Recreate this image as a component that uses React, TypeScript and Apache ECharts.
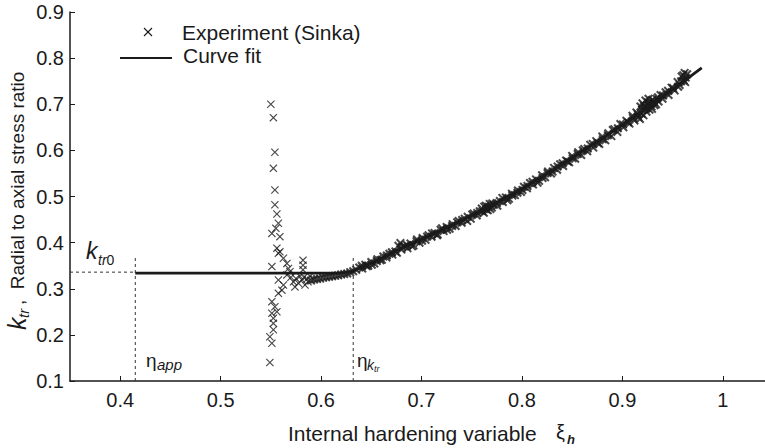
import React, { useEffect, useRef } from 'react';
import * as echarts from 'echarts';

const xTickValues = [0.4, 0.5, 0.6, 0.7, 0.8, 0.9, 1];
const yTickValues = [0.1, 0.2, 0.3, 0.4, 0.5, 0.6, 0.7, 0.8, 0.9];

const ktr0Value = 0.336;
const etaApp = 0.415;
const etaKtr = 0.632;

// Curve fit
const curveX = [0.415, 0.5, 0.6, 0.62, 0.63, 0.64, 0.65, 0.66, 0.67, 0.68, 0.69, 0.7, 0.72, 0.74, 0.76, 0.78, 0.8, 0.82, 0.84, 0.86, 0.88, 0.9, 0.92, 0.94, 0.96, 0.979];
const curveY = [0.334, 0.334, 0.334, 0.334, 0.337, 0.346, 0.356, 0.366, 0.377, 0.388, 0.398, 0.408, 0.428, 0.448, 0.47, 0.493, 0.517, 0.543, 0.57, 0.598, 0.626, 0.655, 0.685, 0.716, 0.748, 0.779];

// Experiment (Sinka): scattered points near onset
const clusterPoints: [number, number][] = [
  [0.550, 0.700], [0.5525, 0.671], [0.554, 0.596], [0.5525, 0.561], [0.554, 0.514],
  [0.554, 0.482], [0.556, 0.462], [0.5575, 0.442], [0.555, 0.431], [0.551, 0.420],
  [0.559, 0.413], [0.556, 0.388], [0.559, 0.380], [0.5575, 0.377], [0.5625, 0.366],
  [0.566, 0.355], [0.551, 0.348], [0.5675, 0.344], [0.582, 0.362], [0.582, 0.351],
  [0.582, 0.341], [0.569, 0.337], [0.5575, 0.319], [0.5625, 0.308], [0.561, 0.297],
  [0.5575, 0.290], [0.5725, 0.315], [0.574, 0.304], [0.5775, 0.312], [0.581, 0.319],
  [0.584, 0.308], [0.587, 0.315], [0.551, 0.272], [0.554, 0.261], [0.556, 0.250],
  [0.551, 0.247], [0.5525, 0.236], [0.5525, 0.225], [0.5525, 0.211], [0.549, 0.196],
  [0.551, 0.182], [0.549, 0.140], [0.570, 0.325], [0.575, 0.322], [0.579, 0.327],
  [0.583, 0.325], [0.586, 0.321], [0.589, 0.327], [0.566, 0.330]
];

// Experiment (Sinka): dense band along the curve
const bandPoints: [number, number][] = [
  [0.590, 0.318], [0.593, 0.320], [0.596, 0.321], [0.599, 0.322], [0.602, 0.324],
  [0.605, 0.325], [0.608, 0.326], [0.611, 0.327], [0.614, 0.328], [0.617, 0.329],
  [0.620, 0.331], [0.623, 0.332], [0.626, 0.333], [0.629, 0.336], [0.632, 0.338],
  [0.635, 0.341], [0.638, 0.346], [0.641, 0.344], [0.644, 0.352], [0.647, 0.350],
  [0.650, 0.358], [0.653, 0.355], [0.656, 0.364], [0.659, 0.362], [0.662, 0.370],
  [0.665, 0.368], [0.668, 0.376], [0.671, 0.374], [0.674, 0.381], [0.677, 0.393],
  [0.679, 0.399], [0.680, 0.385], [0.683, 0.392], [0.686, 0.388], [0.689, 0.398],
  [0.692, 0.394], [0.695, 0.403], [0.698, 0.400], [0.701, 0.410], [0.704, 0.406],
  [0.707, 0.416], [0.710, 0.413], [0.713, 0.421], [0.716, 0.418], [0.719, 0.428],
  [0.722, 0.425], [0.725, 0.434], [0.728, 0.430], [0.731, 0.440], [0.734, 0.436],
  [0.737, 0.447], [0.740, 0.443], [0.743, 0.452], [0.746, 0.456], [0.749, 0.452],
  [0.752, 0.463], [0.755, 0.459], [0.758, 0.468], [0.760, 0.474], [0.762, 0.465],
  [0.764, 0.480], [0.766, 0.470], [0.768, 0.484], [0.770, 0.476], [0.772, 0.482],
  [0.775, 0.486], [0.778, 0.490], [0.781, 0.488], [0.784, 0.498], [0.787, 0.495],
  [0.790, 0.506], [0.793, 0.503], [0.796, 0.513], [0.799, 0.510], [0.802, 0.521],
  [0.805, 0.518], [0.808, 0.529], [0.811, 0.526], [0.814, 0.537], [0.817, 0.534],
  [0.820, 0.546], [0.823, 0.542], [0.826, 0.554], [0.829, 0.550], [0.832, 0.562],
  [0.835, 0.558], [0.838, 0.570], [0.841, 0.566], [0.844, 0.578], [0.847, 0.574],
  [0.850, 0.588], [0.853, 0.582], [0.856, 0.596], [0.859, 0.590], [0.862, 0.603],
  [0.865, 0.598], [0.868, 0.612], [0.871, 0.606], [0.874, 0.620], [0.877, 0.614],
  [0.880, 0.630], [0.883, 0.622], [0.886, 0.637], [0.889, 0.631], [0.892, 0.646],
  [0.895, 0.640], [0.898, 0.657], [0.901, 0.650], [0.904, 0.664], [0.907, 0.658],
  [0.910, 0.675], [0.912, 0.665], [0.914, 0.682], [0.916, 0.672], [0.918, 0.695],
  [0.919, 0.680], [0.920, 0.702], [0.921, 0.676], [0.922, 0.690], [0.923, 0.708],
  [0.924, 0.684], [0.925, 0.698], [0.926, 0.712], [0.927, 0.688], [0.928, 0.705],
  [0.929, 0.695], [0.930, 0.710], [0.932, 0.698], [0.934, 0.712], [0.936, 0.706],
  [0.938, 0.720], [0.940, 0.712], [0.943, 0.726], [0.946, 0.720], [0.949, 0.736],
  [0.952, 0.730], [0.955, 0.748], [0.957, 0.742], [0.959, 0.760], [0.961, 0.752],
  [0.962, 0.768], [0.963, 0.758]
];

// Experiment (Sinka): additional band readings (interleaved)
const bandPoints2: [number, number][] = [
  [0.6405, 0.350], [0.6455, 0.349], [0.6505, 0.352], [0.6555, 0.360], [0.6605, 0.363],
  [0.6655, 0.372], [0.6705, 0.379], [0.6755, 0.378], [0.6805, 0.391], [0.6855, 0.395],
  [0.6905, 0.392], [0.6955, 0.407], [0.7005, 0.404], [0.7055, 0.413], [0.7105, 0.420],
  [0.7155, 0.416], [0.7205, 0.431], [0.7255, 0.428], [0.7305, 0.436], [0.7355, 0.444],
  [0.7405, 0.449], [0.7455, 0.447], [0.7505, 0.461], [0.7555, 0.464], [0.7605, 0.468],
  [0.7625, 0.478], [0.7645, 0.472], [0.7665, 0.478], [0.7685, 0.473], [0.7705, 0.485],
  [0.7755, 0.480], [0.7805, 0.497], [0.7855, 0.492], [0.7905, 0.502], [0.7955, 0.508],
  [0.8005, 0.514], [0.8055, 0.523], [0.8105, 0.532], [0.8155, 0.530], [0.8205, 0.540],
  [0.8255, 0.551], [0.8305, 0.554], [0.8355, 0.565], [0.8405, 0.572], [0.8455, 0.576],
  [0.8505, 0.583], [0.8555, 0.592], [0.8605, 0.600], [0.8655, 0.604], [0.8705, 0.614],
  [0.8755, 0.616], [0.8805, 0.624], [0.8855, 0.633], [0.8905, 0.644], [0.8955, 0.648],
  [0.9005, 0.656], [0.9055, 0.661], [0.9105, 0.670], [0.9155, 0.678], [0.9175, 0.668],
  [0.9195, 0.688], [0.9215, 0.696], [0.9235, 0.692], [0.9255, 0.704], [0.9275, 0.700],
  [0.9295, 0.690], [0.9315, 0.705], [0.9335, 0.700], [0.9355, 0.715], [0.9405, 0.719],
  [0.9455, 0.729], [0.9505, 0.735], [0.9555, 0.738], [0.9585, 0.750], [0.9605, 0.763],
  [0.9625, 0.748], [0.9645, 0.765]
];

const FONT = "'Liberation Sans', Arial, sans-serif";
const INK = '#1a1a1a';
const CROSS = 'path://M0,1L1,0L5,4L9,0L10,1L6,5L10,9L9,10L5,6L1,10L0,9L4,5Z';
const CROSS_BOLD = 'path://M0,1.6L1.6,0L5,3.4L8.4,0L10,1.6L6.6,5L10,8.4L8.4,10L5,6.6L1.6,10L0,8.4L3.4,5Z';

export default function App() {
  const ref = useRef<HTMLDivElement>(null);

  useEffect(() => {
    if (!ref.current) return;
    const chart = echarts.init(ref.current, null, { renderer: 'svg' });

    const option: any = {
      animation: false,
      backgroundColor: '#ffffff',
      grid: { left: 70, right: 0, top: 12, bottom: 67 },
      xAxis: {
        type: 'value',
        min: 0.35,
        max: 1.042,
        axisLine: { show: true, lineStyle: { color: INK, width: 1.5 } },
        axisTick: { show: true, inside: true, length: 5, customValues: xTickValues, lineStyle: { color: INK, width: 1 } },
        axisLabel: {
          customValues: xTickValues,
          color: INK,
          fontSize: 20,
          fontFamily: FONT,
          margin: 9,
          formatter: (v: number) => (Math.abs(v - 1) < 1e-9 ? '1' : v.toFixed(1)),
        },
        splitLine: { show: false },
      },
      yAxis: {
        type: 'value',
        min: 0.1,
        max: 0.9,
        axisLine: { show: true, lineStyle: { color: INK, width: 1.5 } },
        axisTick: { show: true, inside: true, length: 5, customValues: yTickValues, lineStyle: { color: INK, width: 1 } },
        axisLabel: {
          customValues: yTickValues,
          color: INK,
          fontSize: 20,
          fontFamily: FONT,
          margin: 6,
          formatter: (v: number) => v.toFixed(1),
        },
        splitLine: { show: false },
      },
      series: [
        {
          name: 'Experiment (Sinka)',
          type: 'scatter',
          data: clusterPoints,
          symbol: CROSS,
          symbolSize: 8,
          itemStyle: { color: INK },
          z: 3,
        },
        {
          name: 'Experiment (Sinka) band',
          type: 'scatter',
          data: bandPoints,
          symbol: CROSS_BOLD,
          symbolSize: 9,
          itemStyle: { color: INK },
          z: 3,
        },
        {
          name: 'Experiment (Sinka) band 2',
          type: 'scatter',
          data: bandPoints2,
          symbol: CROSS_BOLD,
          symbolSize: 9,
          itemStyle: { color: INK },
          z: 3,
        },
        {
          name: 'Curve fit',
          type: 'line',
          data: curveX.map((x, i) => [x, curveY[i]]),
          showSymbol: false,
          smooth: false,
          lineStyle: { color: INK, width: 2.8 },
          z: 4,
        },
        {
          name: 'ktr0 guide',
          type: 'line',
          data: [[0.35, ktr0Value], [etaApp, ktr0Value]],
          showSymbol: false,
          lineStyle: { color: '#333', width: 1, type: [3, 3] },
          z: 2,
        },
        {
          name: 'eta app guide',
          type: 'line',
          data: [[etaApp, 0.1], [etaApp, 0.371]],
          showSymbol: false,
          lineStyle: { color: '#333', width: 1, type: [3, 3] },
          z: 2,
        },
        {
          name: 'eta ktr guide',
          type: 'line',
          data: [[etaKtr, 0.1], [etaKtr, 0.367]],
          showSymbol: false,
          lineStyle: { color: '#333', width: 1, type: [3, 3] },
          z: 2,
        },
      ],
      graphic: [
        // Legend
        { type: 'line', shape: { x1: 144, y1: 28, x2: 152, y2: 36 }, style: { stroke: INK, lineWidth: 1.1 } },
        { type: 'line', shape: { x1: 152, y1: 28, x2: 144, y2: 36 }, style: { stroke: INK, lineWidth: 1.1 } },
        { type: 'text', x: 182, y: 32, style: { text: 'Experiment (Sinka)', font: `21px ${FONT}`, fill: INK, verticalAlign: 'middle' } },
        { type: 'line', shape: { x1: 120, y1: 58, x2: 172, y2: 58 }, style: { stroke: INK, lineWidth: 2.2 } },
        { type: 'text', x: 183, y: 55, style: { text: 'Curve fit', font: `21px ${FONT}`, fill: INK, verticalAlign: 'middle' } },
        // k_tr0
        { type: 'text', x: 86, y: 251, style: { text: 'k', font: `italic 23px ${FONT}`, fill: INK, verticalAlign: 'middle' } },
        { type: 'text', x: 98, y: 260, style: { text: '{i|tr}{n|0}', fill: INK, verticalAlign: 'middle', rich: { i: { fontStyle: 'italic', fontSize: 14, fontFamily: FONT, fill: INK }, n: { fontSize: 14, fontFamily: FONT, fill: INK } } } },
        // eta_app
        { type: 'text', x: 146, y: 360, style: { text: 'η', font: `19px ${FONT}`, fill: INK, verticalAlign: 'middle' } },
        { type: 'text', x: 157, y: 364, style: { text: 'app', font: `italic 15px ${FONT}`, fill: INK, verticalAlign: 'middle' } },
        // eta_ktr
        { type: 'text', x: 357, y: 360, style: { text: 'η', font: `19px ${FONT}`, fill: INK, verticalAlign: 'middle' } },
        { type: 'text', x: 367, y: 365, style: { text: 'k', font: `italic 14px ${FONT}`, fill: INK, verticalAlign: 'middle' } },
        { type: 'text', x: 374, y: 369, style: { text: 'tr', font: `italic 9px ${FONT}`, fill: INK, verticalAlign: 'middle' } },
        // X axis title
        { type: 'text', x: 288, y: 433, style: { text: 'Internal hardening variable', font: `21px ${FONT}`, fill: INK, verticalAlign: 'middle' } },
        { type: 'text', x: 556, y: 432, style: { text: 'ξ', font: `20px ${FONT}`, fill: INK, verticalAlign: 'middle' } },
        { type: 'text', x: 567, y: 439, style: { text: 'h', font: `italic bold 13px ${FONT}`, fill: INK, verticalAlign: 'middle' } },
        // Y axis title (rotated)
        {
          type: 'group',
          x: 17,
          y: 330,
          rotation: Math.PI / 2,
          children: [
            { type: 'text', x: 0, y: 0, style: { text: 'k', font: `italic 25px ${FONT}`, fill: INK, verticalAlign: 'middle' } },
            { type: 'text', x: 12, y: 6, style: { text: 'tr', font: `italic 15px ${FONT}`, fill: INK, verticalAlign: 'middle' } },
            { type: 'text', x: 25, y: 0, style: { text: ',  Radial to axial stress ratio', font: `19px ${FONT}`, fill: INK, verticalAlign: 'middle' } },
          ],
        },
      ],
    };

    chart.setOption(option);
    return () => chart.dispose();
  }, []);

  return <div ref={ref} style={{ position: 'fixed', left: 0, top: 0, width: 765, height: 448 }} />;
}
